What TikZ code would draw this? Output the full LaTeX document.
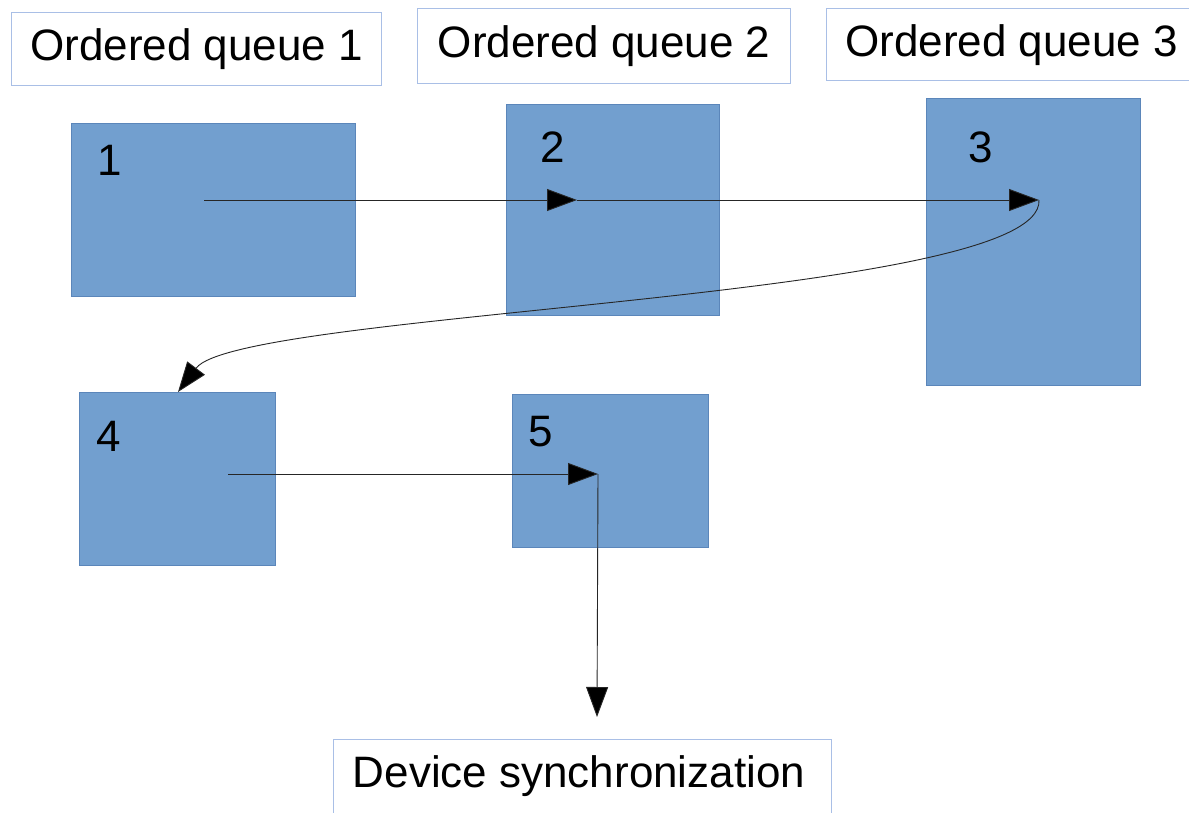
\documentclass[tikz,border=0pt]{standalone}
\usepackage{fontspec}
\setmainfont{Liberation Sans}
\usetikzlibrary{arrows.meta}
\definecolor{qfill}{HTML}{729FCF}
\definecolor{qborder}{HTML}{5B86BA}
\definecolor{lborder}{HTML}{A9BFE6}
\tikzset{
  qbox/.style={draw=qborder, fill=qfill, line width=0.8pt, inner sep=0pt, anchor=north west},
  lbox/.style={draw=lborder, fill=white, line width=1.3pt, inner sep=0pt, anchor=north west, font=\fontsize{44}{50}\selectfont},
  num/.style={inner sep=0pt, font=\fontsize{44}{50}\selectfont},
  flow/.style={draw=black!85, line width=0.9pt, -{Triangle[length=30pt,width=22pt,fill=black]}},
}
\begin{document}
\begin{tikzpicture}[x=1pt,y=-1pt]
\clip (0,0) rectangle (1189,813);
\fill[white] (0,0) rectangle (1189,813);
% labels
\node[lbox, minimum width=370pt, minimum height=73pt] (l1) at (11,12) {Ordered queue 1};
\node[lbox, minimum width=373pt, minimum height=75pt] (l2) at (417,8) {Ordered queue 2};
\node[lbox, minimum width=370pt, minimum height=72pt] (l3) at (826,8) {Ordered queue 3};
\node[lbox, minimum width=498pt, minimum height=90pt] (ld) at (333,739) {};
\node[num] (tdev) at (579,776) {Device synchronization};
% queue boxes
\node[qbox, minimum width=284pt, minimum height=173pt] (b1) at (71,123) {};
\node[qbox, minimum width=213pt, minimum height=211pt] (b2) at (506,104) {};
\node[qbox, minimum width=214pt, minimum height=287pt] (b3) at (926,98) {};
\node[qbox, minimum width=196pt, minimum height=173pt] (b4) at (79,392) {};
\node[qbox, minimum width=196pt, minimum height=153pt] (b5) at (512,394) {};
% numbers
\node[num] (n1) at (110,160) {1};
\node[num] (n2) at (553,147) {2};
\node[num] (n3) at (981,147) {3};
\node[num] (n4) at (109,436) {4};
\node[num] (n5) at (541,432) {5};
% connector points
\coordinate (p1) at (204,200);
\coordinate (p2) at (577,200);
\coordinate (p3) at (1039,200);
\coordinate (p4) at (178,392);
\coordinate (p4s) at (228,474);
\coordinate (p5) at (598,474);
\coordinate (pd) at (597,717);
% connectors
\draw[flow] (p1) -- (p2);
\draw[flow] (p2) -- (p3);
\draw[flow] (p3) .. controls (1045,300) and (240,310) .. (p4);
\draw[flow] (p4s) -- (p5);
\draw[flow] (p5) -- (pd);
\end{tikzpicture}
\end{document}
